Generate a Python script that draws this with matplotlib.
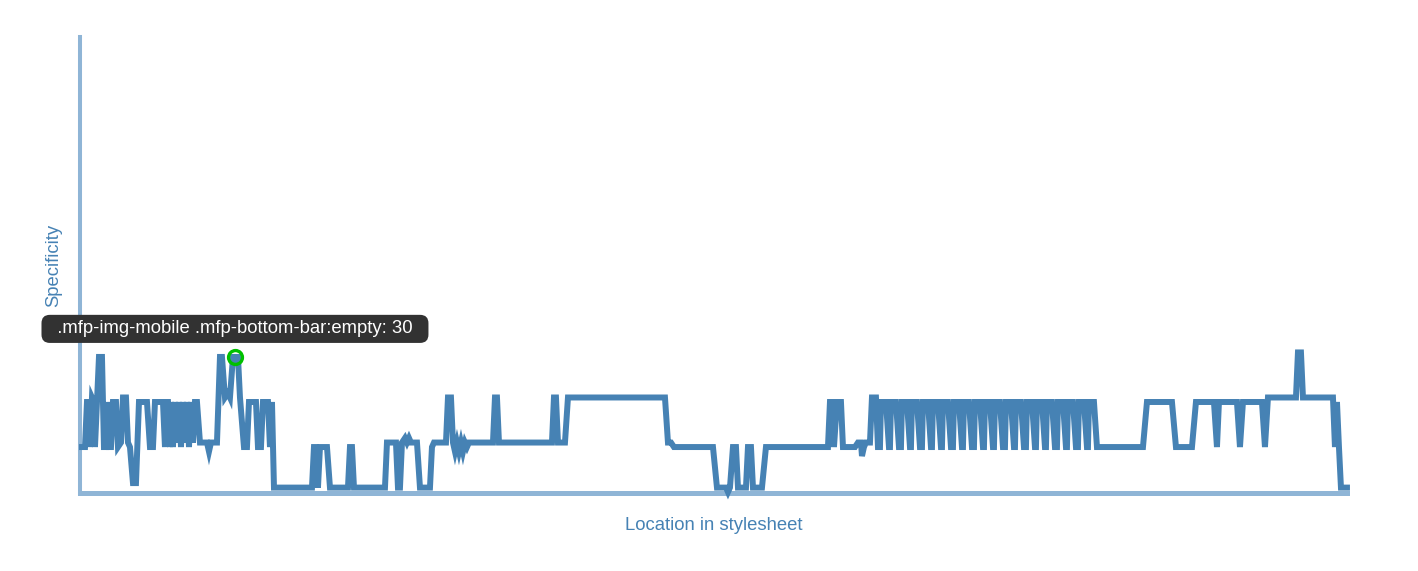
import matplotlib
matplotlib.use("Agg")
from matplotlib import pyplot as plt

### Chart data: rule position in the stylesheet vs. its specificity
location = [
    2, 5, 7, 9, 10, 12, 14, 15, 17, 19, 22, 24, 26, 27, 29, 31, 33, 36, 38, 41,
    43, 46, 48, 50, 53, 56, 59, 67, 70, 73, 75, 83, 85, 86, 88, 90, 91, 93, 95, 97,
    99, 101, 103, 105, 107, 109, 111, 113, 115, 117, 120, 123, 127, 129, 131, 134, 137, 140, 142, 145,
    148, 150, 153, 158, 160, 164, 167, 169, 176, 178, 181, 183, 188, 190, 192, 194,
    232, 234, 236, 238, 240, 247, 250, 268, 270, 272, 274, 305, 307, 310, 312, 316, 318, 320, 322, 325,
    327, 329, 331, 337, 340, 350, 352, 354, 366, 368, 371, 373, 375, 377, 379, 381, 383, 385, 387, 389,
    413, 415, 417, 419, 472, 474, 476, 478, 485, 488, 585, 588, 591, 594, 633, 637, 646, 648, 650, 653,
    656, 658, 666, 668, 671, 673, 682, 686, 748, 750, 752, 754, 757, 761, 763, 775, 778, 781, 782, 784,
    786, 790, 792, 796, 798,
    800, 801, 806, 809, 810, 811, 816, 819, 821, 822, 827, 830, 831, 832, 837, 840,
    842, 843, 848, 851, 852, 853, 858, 861, 862, 863, 868, 871, 873, 874, 879, 882,
    883, 884, 889, 892, 894, 895, 900, 903, 904, 905, 910, 913, 914, 915, 920, 923,
    925, 926, 931, 934, 935, 936, 941, 944, 946, 947, 952, 955, 956, 957, 962, 965,
    966, 967, 972, 975, 977, 978, 983, 986, 987, 988, 993, 996, 998, 999, 1004, 1007,
    1008, 1009, 1014, 1017,
    1063, 1067, 1092, 1096, 1112, 1116, 1134, 1137, 1139, 1157, 1160, 1163, 1182, 1185, 1188, 1216,
    1218, 1221, 1223, 1253, 1255, 1257, 1259, 1261, 1267,
]
specificity = [
    10, 10, 20, 20, 10, 21, 20, 10, 20, 30, 30, 10, 10, 20, 10, 10, 20, 20, 10, 11,
    21, 21, 11, 10, 2, 2, 20, 20, 10, 10, 20, 20, 10, 20, 20, 10, 20, 10, 20, 11,
    20, 10, 20, 11, 20, 10, 20, 11, 20, 20, 11, 11, 11, 9, 11, 11, 11, 30, 30, 21,
    22, 21, 30, 30, 21, 10, 10, 20, 20, 10, 10, 20, 20, 10, 20, 1,
    1, 10, 10, 1, 10, 10, 1, 1, 10, 10, 1, 1, 11, 11, 11, 11, 1, 1, 11, 12,
    11, 12, 11, 11, 1, 1, 10, 11, 11, 21, 21, 11, 9, 11, 9, 11, 9, 11, 10, 11,
    11, 21, 21, 11, 11, 21, 21, 11, 11, 21, 21, 11, 11, 10, 10, 1, 1, 0, 1, 10,
    10, 1, 1, 10, 10, 1, 1, 10, 10, 20, 20, 10, 20, 20, 10, 10, 11, 11, 8, 10,
    11, 11, 21, 21, 10,
    10, 20, 20, 10, 10, 20, 20, 10, 10, 20, 20, 10, 10, 20, 20, 10,
    10, 20, 20, 10, 10, 20, 20, 10, 10, 20, 20, 10, 10, 20, 20, 10,
    10, 20, 20, 10, 10, 20, 20, 10, 10, 20, 20, 10, 10, 20, 20, 10,
    10, 20, 20, 10, 10, 20, 20, 10, 10, 20, 20, 10, 10, 20, 20, 10,
    10, 20, 20, 10, 10, 20, 20, 10, 10, 20, 20, 10, 10, 20, 20, 10,
    10, 20, 20, 10,
    10, 20, 20, 10, 10, 20, 20, 10, 20, 20, 10, 20, 20, 10, 21, 21,
    31, 31, 21, 21, 10, 20, 10, 1, 1,
]

### Hovered rule (tooltip)
hover_selector = ".mfp-img-mobile .mfp-bottom-bar:empty"
hover_location = 155
hover_specificity = 30

line_color = "#4682b4"
axis_color = "#8fb5d6"
font = ["Liberation Sans", "DejaVu Sans"]

fig = plt.figure(figsize=(14.18, 5.71), dpi=100)
ax = fig.add_axes([0.0564, 0.1366, 0.8935, 0.7985])

ax.plot(location, specificity, color=line_color, lw=4.3,
        solid_joinstyle="miter", clip_on=False, zorder=3)

ax.set_xlim(0, 1267)
ax.set_ylim(-0.2, 101)

for side in ["top", "right"]:
    ax.spines[side].set_visible(False)
ax.spines["left"].set_color(axis_color)
ax.spines["left"].set_linewidth(2.9)
ax.spines["bottom"].set_color(axis_color)
ax.spines["bottom"].set_linewidth(3.6)
ax.set_xticks([])
ax.set_yticks([])

ax.set_xlabel("Location in stylesheet", color=line_color, fontsize=13.3,
              family=font, labelpad=17)
ax.set_ylabel("Specificity", color=line_color, fontsize=13.3,
              family=font, labelpad=13)

### Hover marker + tooltip
ax.plot([hover_location], [hover_specificity], marker="o", ms=10,
        mfc="none", mec="#00c000", mew=2.4, zorder=5, clip_on=False)
ax.annotate("\u00a0\u00a0" + f"{hover_selector}: {hover_specificity}" + "\u00a0\u00a0",
            xy=(hover_location, hover_specificity), xytext=(0, 20.2),
            textcoords="offset points", ha="center", va="center",
            color="white", fontsize=13.3, family=font, zorder=6,
            bbox=dict(boxstyle="round,pad=0.3,rounding_size=0.45",
                      fc="#323232", ec="none"))

fig.savefig("out.png", dpi=100, facecolor="white")
